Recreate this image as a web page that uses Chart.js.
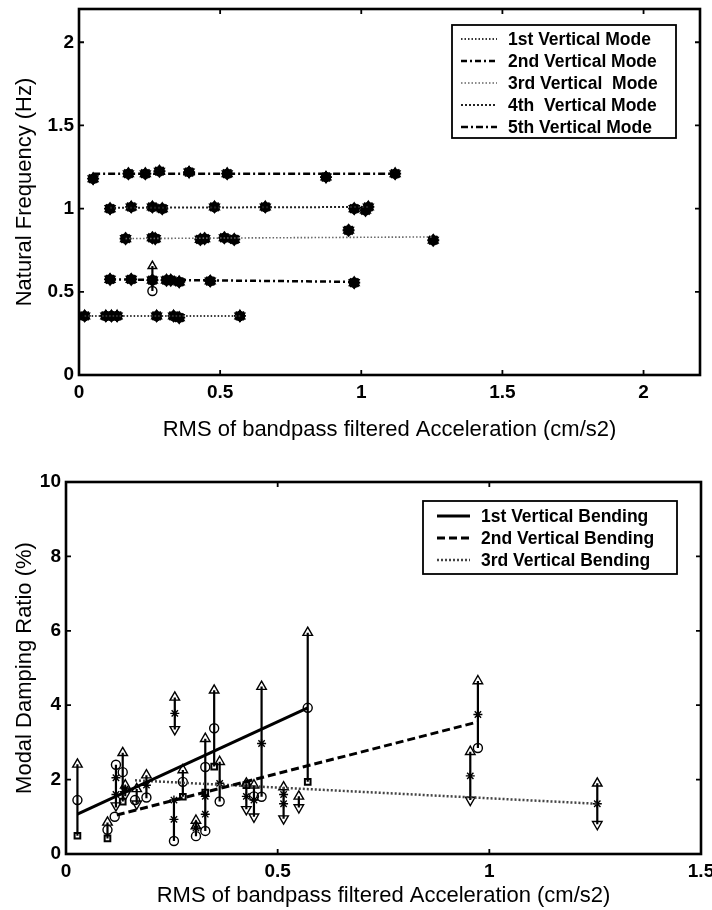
<!DOCTYPE html>
<html><head><meta charset="utf-8">
<script src="https://cdn.jsdelivr.net/npm/chart.js@4/dist/chart.umd.min.js"></script>
<style>
html,body{margin:0;padding:0;background:#fff;width:712px;height:910px;overflow:hidden}
#c1{position:absolute;left:0;top:0}
#c2{position:absolute;left:0;top:440px}
</style></head><body>
<canvas id="c1" width="712" height="440"></canvas>
<canvas id="c2" width="712" height="470"></canvas>
<script>
// ---------- TOP CHART DATA ----------
const topXTicks = [0, 0.5, 1, 1.5, 2];
const topYTicks = [0, 0.5, 1, 1.5, 2];
const topXTitle = 'RMS of bandpass filtered Acceleration (cm/s2)';
const topYTitle = 'Natural Frequency (Hz)';
const modeNames = ['1st Vertical Mode', '2nd Vertical Mode', '3rd Vertical  Mode', '4th  Vertical Mode', '5th Vertical Mode'];

const mode1X = [0.02, 0.095, 0.115, 0.135, 0.275, 0.335, 0.355, 0.57];
const mode1Y = [0.355, 0.355, 0.355, 0.355, 0.355, 0.355, 0.345, 0.355];
const mode2X = [0.11, 0.185, 0.26, 0.31, 0.325, 0.355, 0.465, 0.975];
const mode2Y = [0.575, 0.575, 0.57, 0.57, 0.57, 0.56, 0.565, 0.555];
const mode3X = [0.165, 0.26, 0.27, 0.43, 0.445, 0.515, 0.55, 0.955, 1.255];
const mode3Y = [0.82, 0.825, 0.82, 0.815, 0.82, 0.825, 0.815, 0.87, 0.81];
const mode4X = [0.11, 0.185, 0.26, 0.295, 0.48, 0.66, 0.975, 1.015, 1.025];
const mode4Y = [1.0, 1.01, 1.01, 1.0, 1.01, 1.01, 1.0, 0.99, 1.01];
const mode5X = [0.05, 0.175, 0.235, 0.285, 0.39, 0.525, 0.875, 1.12];
const mode5Y = [1.18, 1.21, 1.21, 1.225, 1.22, 1.21, 1.19, 1.21];

// fitted lines of each mode (start, end)
const modeFitX = [[0.02, 0.575], [0.11, 0.975], [0.165, 1.255], [0.11, 1.025], [0.05, 1.12]];
const modeFitY = [[0.355, 0.355], [0.575, 0.56], [0.82, 0.83], [1.005, 1.01], [1.21, 1.21]];

// scatter range bar in the 2nd mode
const topBarX = [0.26];
const topBarLo = [0.505];
const topBarHi = [0.655];

// ---------- BOTTOM CHART DATA ----------
const botXTicks = [0, 0.5, 1, 1.5];
const botYTicks = [0, 2, 4, 6, 8, 10];
const botXTitle = 'RMS of bandpass filtered Acceleration (cm/s2)';
const botYTitle = 'Modal Damping Ratio (%)';
const bendNames = ['1st Vertical Bending', '2nd Vertical Bending', '3rd Vertical Bending'];

const fitX1 = [0.027, 0.571], fitY1 = [1.07, 3.93];
const fitX2 = [0.12, 0.973], fitY2 = [1.05, 3.55];
const fitX3 = [0.163, 1.255], fitY3 = [1.98, 1.35];

const barX  = [0.027, 0.098, 0.118, 0.134, 0.14, 0.167, 0.19, 0.257, 0.255, 0.276, 0.307, 0.329, 0.35, 0.363, 0.426, 0.444, 0.462, 0.514, 0.55, 0.571, 0.955, 0.973, 1.255];
const barLo = [0.49, 0.42, 1.25, 1.41, 1.55, 1.35, 1.5, 3.35, 0.35, 1.54, 0.48, 0.62, 2.35, 1.41, 1.2, 1.0, 1.54, 0.95, 1.25, 1.94, 1.45, 2.85, 0.8];
const barHi = [2.41, 0.85, 2.4, 2.72, 1.85, 1.75, 2.12, 4.21, 1.45, 2.26, 0.9, 3.1, 4.4, 2.48, 1.9, 1.85, 4.5, 1.8, 1.55, 5.95, 2.75, 4.65, 1.9];

const triUpX = [0.027, 0.098, 0.134, 0.14, 0.167, 0.19, 0.257, 0.276, 0.307, 0.307, 0.329, 0.35, 0.363, 0.426, 0.444, 0.462, 0.514, 0.55, 0.571, 0.955, 0.973, 1.255];
const triUpY = [2.41, 0.85, 2.72, 1.85, 1.75, 2.12, 4.21, 2.26, 0.9, 0.75, 3.1, 4.4, 2.48, 1.9, 1.85, 4.5, 1.8, 1.55, 5.95, 2.75, 4.65, 1.9];
const triDnX = [0.118, 0.167, 0.257, 0.426, 0.444, 0.514, 0.55, 0.955, 1.255, 0.14];
const triDnY = [1.3, 1.35, 3.35, 1.2, 1.0, 0.95, 1.25, 1.45, 0.8, 1.6];
const circX = [0.027, 0.098, 0.118, 0.115, 0.134, 0.163, 0.19, 0.255, 0.276, 0.307, 0.329, 0.329, 0.35, 0.363, 0.444, 0.462, 0.571, 0.973];
const circY = [1.45, 0.65, 2.4, 1.0, 2.2, 1.45, 1.52, 0.35, 1.94, 0.48, 2.34, 0.62, 3.38, 1.41, 1.55, 1.54, 3.93, 2.85];
const sqX = [0.027, 0.098, 0.134, 0.276, 0.35, 0.571, 0.329, 0.426];
const sqY = [0.49, 0.42, 1.41, 1.54, 2.35, 1.94, 1.65, 1.85];
const starX = [0.118, 0.118, 0.14, 0.19, 0.257, 0.255, 0.255, 0.307, 0.329, 0.329, 0.363, 0.426, 0.444, 0.462, 0.514, 0.514, 0.955, 0.973, 1.255];
const starY = [2.05, 1.6, 1.75, 1.85, 3.78, 0.93, 1.45, 0.7, 1.07, 1.55, 1.9, 1.55, 1.45, 2.97, 1.35, 1.6, 2.1, 3.75, 1.35];

// ---------- helpers ----------
const FONT = '"Liberation Sans", Arial, Helvetica, sans-serif';
const pts = (xs, ys) => xs.map((x, i) => ({x: x, y: ys[i]}));
const bars = (xs, lo, hi) => { const a = []; xs.forEach((x, i) => { a.push({x: x, y: lo[i]}, {x: x, y: hi[i]}, {x: x, y: null}); }); return a; };

function markerDS(data, style, r, rot, bw) {
  return {type: 'scatter', data: data, showLine: false, pointStyle: style, pointRadius: r, pointHoverRadius: r,
    rotation: rot || 0, borderColor: '#000', backgroundColor: 'rgba(0,0,0,0)', pointBorderWidth: bw || 1.4};
}
function lineDS(label, data, dash, w, color) {
  return {type: 'scatter', label: label, data: data, showLine: true, pointRadius: 0, pointHoverRadius: 0,
    borderColor: color || '#000', backgroundColor: color || '#000', borderWidth: w, borderDash: dash, spanGaps: false, fill: false};
}

function scalesFor(c) {
  return {
    x: {type: 'linear', min: c.xMin, max: c.xMax,
      afterBuildTicks: s => { s.ticks = c.xTicks.map(v => ({value: v})); },
      afterFit: s => { s.height = c.xHeight; s.paddingLeft = 0; s.paddingRight = 0; },
      grid: {display: false, drawTicks: false}, border: {display: false},
      ticks: {padding: 6, autoSkip: false, maxRotation: 0, color: '#000', font: {family: FONT, size: 19, weight: 'bold'}, callback: v => String(v)},
      title: {display: true, text: c.xTitle, color: '#000', font: {family: FONT, size: 22, lineHeight: 1}, padding: {top: 0, bottom: c.xTitlePad}}},
    y: {type: 'linear', min: c.yMin, max: c.yMax,
      afterBuildTicks: s => { s.ticks = c.yTicks.map(v => ({value: v})); },
      afterFit: s => { s.width = c.yWidth; s.paddingTop = 0; s.paddingBottom = 0; },
      grid: {display: false, drawTicks: false}, border: {display: false},
      ticks: {padding: 5, autoSkip: false, color: '#000', font: {family: FONT, size: 19, weight: 'bold'}, callback: v => String(v)},
      title: {display: true, text: c.yTitle, color: '#000', font: {family: FONT, size: 22, lineHeight: 1}, padding: {top: 14, bottom: 0}}}
  };
}

const framePlugin = {
  id: 'frame',
  afterDatasetsDraw(chart) {
    const {ctx, chartArea: a, scales: {x, y}} = chart;
    ctx.save();
    ctx.strokeStyle = '#000'; ctx.lineWidth = 1.8; ctx.setLineDash([]);
    const tl = 5;
    ctx.beginPath();
    x.ticks.forEach(t => { const p = x.getPixelForValue(t.value); ctx.moveTo(p, a.bottom); ctx.lineTo(p, a.bottom - tl); ctx.moveTo(p, a.top); ctx.lineTo(p, a.top + tl); });
    y.ticks.forEach(t => { const p = y.getPixelForValue(t.value); ctx.moveTo(a.left, p); ctx.lineTo(a.left + tl, p); ctx.moveTo(a.right, p); ctx.lineTo(a.right - tl, p); });
    ctx.stroke();
    ctx.lineWidth = 2.6;
    ctx.strokeRect(a.left, a.top, a.right - a.left, a.bottom - a.top);
    ctx.restore();
  }
};

const boxLegend = {
  id: 'boxLegend',
  afterDraw(chart, args, o) {
    if (!o || !o.items) return;
    const ctx = chart.ctx;
    ctx.save();
    ctx.fillStyle = '#fff'; ctx.fillRect(o.left, o.top, o.width, o.height);
    ctx.strokeStyle = '#000'; ctx.lineWidth = 1.8; ctx.setLineDash([]);
    ctx.strokeRect(o.left, o.top, o.width, o.height);
    ctx.font = 'bold ' + o.fontSize + 'px ' + FONT; ctx.textBaseline = 'middle'; ctx.textAlign = 'left';
    o.items.forEach((it, i) => {
      const yy = o.top + o.firstRow + i * o.rowH;
      ctx.setLineDash(it.dash); ctx.lineWidth = it.width; ctx.strokeStyle = it.color;
      ctx.beginPath(); ctx.moveTo(o.left + o.lineX0, yy); ctx.lineTo(o.left + o.lineX1, yy); ctx.stroke();
      ctx.setLineDash([]);
      ctx.fillStyle = '#000';
      ctx.fillText(it.text, o.left + o.textX, yy + 1);
    });
    ctx.restore();
  }
};

// ---------- TOP CHART ----------
const modeX = [mode1X, mode2X, mode3X, mode4X, mode5X];
const modeY = [mode1Y, mode2Y, mode3Y, mode4Y, mode5Y];
const modeStyle = [
  {dash: [1.5, 2], width: 2, color: '#333'},
  {dash: [6, 3, 2, 3], width: 2.5, color: '#000'},
  {dash: [1.5, 2], width: 1.6, color: '#666'},
  {dash: [2, 2], width: 2, color: '#222'},
  {dash: [7, 3, 2, 3], width: 2.5, color: '#000'}
];
const topDatasets = [];
modeNames.forEach((n, i) => {
  topDatasets.push(lineDS(n, pts(modeFitX[i], modeFitY[i]), modeStyle[i].dash, modeStyle[i].width, modeStyle[i].color));
});
topDatasets.push(lineDS('bar', bars(topBarX, topBarLo, topBarHi), [], 2.2));
topDatasets.push(markerDS(pts(topBarX, topBarHi), 'triangle', 5, 0));
topDatasets.push(markerDS(pts(topBarX, topBarLo), 'circle', 4.5, 0));
modeNames.forEach((n, i) => {
  const d = pts(modeX[i], modeY[i]);
  topDatasets.push(markerDS(d, 'star', 6, 0, 1.8));
  topDatasets.push(markerDS(d, 'triangle', 5.5, 0, 1.6));
  topDatasets.push(markerDS(d, 'triangle', 5.5, 180, 1.6));
  topDatasets.push(markerDS(d, 'circle', 4.5, 0, 1.6));
  topDatasets.push(markerDS(d, 'rectRot', 4.5, 0, 1.6));
});

new Chart(document.getElementById('c1'), {
  type: 'scatter',
  data: {datasets: topDatasets},
  options: {
    responsive: false, animation: false, devicePixelRatio: 1,
    layout: {padding: {left: 0, top: 9, right: 12, bottom: 0}},
    scales: scalesFor({xMin: 0, xMax: 2.2, yMin: 0, yMax: 2.2, xTicks: topXTicks, yTicks: topYTicks,
      xHeight: 65, yWidth: 79, xTitlePad: -1, xTitle: topXTitle, yTitle: topYTitle}),
    plugins: {
      legend: {display: false}, tooltip: {enabled: false},
      boxLegend: {left: 452, top: 25, width: 224, height: 113, firstRow: 14, rowH: 22, lineX0: 9, lineX1: 45, textX: 56, fontSize: 17.5,
        items: modeNames.map((n, i) => ({text: n, dash: modeStyle[i].dash, width: modeStyle[i].width, color: modeStyle[i].color}))}
    }
  },
  plugins: [framePlugin, boxLegend]
});

// ---------- BOTTOM CHART ----------
const bendStyle = [
  {dash: [], width: 3, color: '#000'},
  {dash: [8, 4], width: 3, color: '#000'},
  {dash: [2, 2], width: 2.5, color: '#444'}
];
const fitXs = [fitX1, fitX2, fitX3], fitYs = [fitY1, fitY2, fitY3];
const botDatasets = [];
bendNames.forEach((n, i) => {
  botDatasets.push(lineDS(n, pts(fitXs[i], fitYs[i]), bendStyle[i].dash, bendStyle[i].width, bendStyle[i].color));
});
botDatasets.push(lineDS('bars', bars(barX, barLo, barHi), [], 2.2));
botDatasets.push(markerDS(pts(triUpX, triUpY), 'triangle', 5.5, 0));
botDatasets.push(markerDS(pts(triDnX, triDnY), 'triangle', 5.5, 180));
botDatasets.push(markerDS(pts(circX, circY), 'circle', 4.5, 0));
botDatasets.push(markerDS(pts(sqX, sqY), 'rect', 4, 0, 2));
botDatasets.push(markerDS(pts(starX, starY), 'star', 4.5, 0));

new Chart(document.getElementById('c2'), {
  type: 'scatter',
  data: {datasets: botDatasets},
  options: {
    responsive: false, animation: false, devicePixelRatio: 1,
    layout: {padding: {left: 0, top: 42, right: 11, bottom: 0}},
    scales: scalesFor({xMin: 0, xMax: 1.5, yMin: 0, yMax: 10, xTicks: botXTicks, yTicks: botYTicks,
      xHeight: 56, yWidth: 66, xTitlePad: 3, xTitle: botXTitle, yTitle: botYTitle}),
    plugins: {
      legend: {display: false}, tooltip: {enabled: false},
      boxLegend: {left: 423, top: 61, width: 254, height: 73, firstRow: 15, rowH: 22, lineX0: 14, lineX1: 47, textX: 58, fontSize: 17.5,
        items: bendNames.map((n, i) => ({text: n, dash: bendStyle[i].dash, width: bendStyle[i].width, color: bendStyle[i].color}))}
    }
  },
  plugins: [framePlugin, boxLegend]
});
</script>
</body></html>
